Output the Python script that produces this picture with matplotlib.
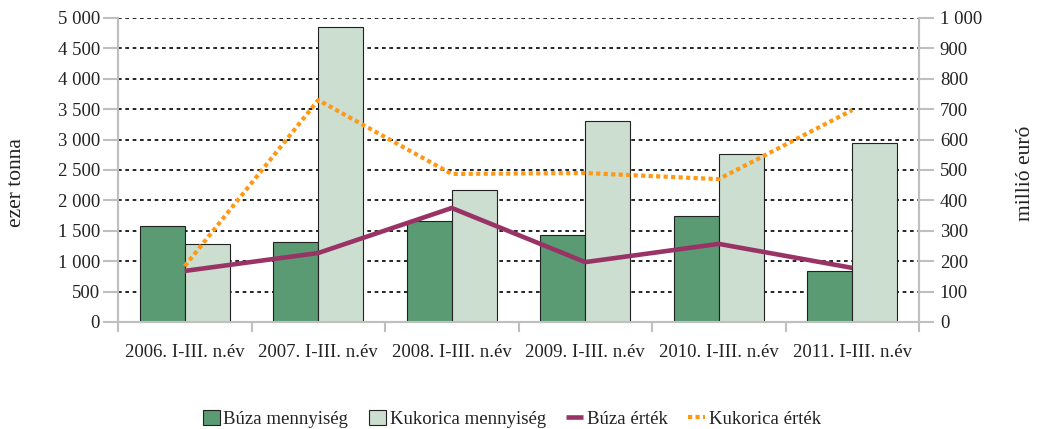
import matplotlib
matplotlib.use("Agg")
import matplotlib.pyplot as plt
import numpy as np
from matplotlib.ticker import FuncFormatter, MultipleLocator, FixedLocator

categories = ["2006. I-III. n.év", "2007. I-III. n.év", "2008. I-III. n.év",
              "2009. I-III. n.év", "2010. I-III. n.év", "2011. I-III. n.év"]
buza_menny = [1580, 1320, 1660, 1430, 1740, 840]
kukorica_menny = [1280, 4860, 2170, 3310, 2770, 2940]
buza_ertek = [168, 227, 375, 197, 257, 178]
kukorica_ertek = [184, 730, 487, 490, 470, 697]

plt.rcParams['font.family'] = ['Liberation Serif', 'DejaVu Serif']
FS = 13.5
GRAY = "#BFBFBF"
TXT = "#222222"

fig = plt.figure(figsize=(10.38, 4.29), dpi=100)
ax = fig.add_axes([118/1038, 1-322/429, (919-118)/1038, (322-18)/429])
ax2 = ax.twinx()

x = np.arange(len(categories))
w = 0.337
ax.bar(x - w/2, buza_menny, w, color="#5A9B74", edgecolor="#222222", linewidth=0.8,
       label="Búza mennyiség", zorder=3)
ax.bar(x + w/2, kukorica_menny, w, color="#CCDECF", edgecolor="#222222", linewidth=0.8,
       label="Kukorica mennyiség", zorder=3)

ax2.plot(x, buza_ertek, color="#993366", linewidth=3.3, solid_capstyle="butt",
         label="Búza érték", zorder=4)
ax2.plot(x, kukorica_ertek, color="#FF9914", linewidth=3.0, linestyle=(0, (1, 0.8)),
         dash_capstyle="butt", label="Kukorica érték", zorder=4)

ax.set_xlim(-0.5, len(categories) - 0.5)
ax.set_ylim(0, 5000)
ax2.set_ylim(0, 1000)
ax.yaxis.set_major_locator(MultipleLocator(500))
ax2.yaxis.set_major_locator(MultipleLocator(100))
fmt = FuncFormatter(lambda v, p: f"{int(v):,}".replace(",", " "))
ax.yaxis.set_major_formatter(fmt)
ax2.yaxis.set_major_formatter(fmt)

ax.set_xticks(x)
ax.set_xticklabels(categories, fontsize=FS, color=TXT)
ax.tick_params(axis="x", which="major", length=0, pad=16)
ax.xaxis.set_minor_locator(FixedLocator(np.arange(-0.5, len(categories), 1.0)))
ax.tick_params(axis="x", which="minor", length=7, width=1.5, color=GRAY, direction="out")

ax.tick_params(axis="y", length=11, width=1.5, color=GRAY, labelsize=FS, labelcolor=TXT, pad=2)
ax2.tick_params(axis="y", length=11, width=1.5, color=GRAY, labelsize=FS, labelcolor=TXT, pad=4)

ax.grid(axis="y", color="black", linestyle=(0, (2.2, 2.2)), linewidth=1.2, zorder=1)
ax.set_axisbelow(True)

for a in (ax, ax2):
    a.spines["top"].set_visible(False)
    for s in ("left", "right", "bottom"):
        a.spines[s].set_color(GRAY)
        a.spines[s].set_linewidth(1.5)

ax.set_zorder(ax2.get_zorder() - 1)
ax.patch.set_visible(False)
ax2.patch.set_visible(False)

fig.text(17/1038, 1-183/429, "ezer tonna", rotation=90, ha="center", va="center",
         fontsize=15.5, color=TXT)
fig.text(1025/1038, 1-173/429, "millió euró", rotation=90, ha="center", va="center",
         fontsize=15.5, color=TXT)

h1, l1 = ax.get_legend_handles_labels()
h2, l2 = ax2.get_legend_handles_labels()
leg = fig.legend(h1 + h2, l1 + l2, loc="center", bbox_to_anchor=(512/1038, 1-419/429),
                 ncol=4, frameon=False, fontsize=FS, handlelength=0.9, handleheight=0.9,
                 handletextpad=0.2, columnspacing=1.1)
for t in leg.get_texts():
    t.set_color(TXT)

fig.savefig("out.png", dpi=100)
